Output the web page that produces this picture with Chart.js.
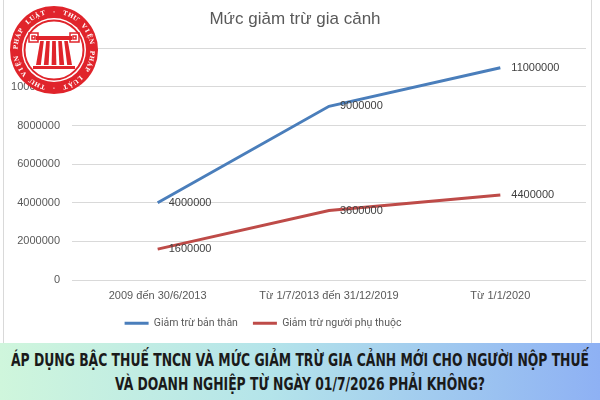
<!DOCTYPE html>
<html>
<head>
<meta charset="utf-8">
<script src="https://cdn.jsdelivr.net/npm/chart.js@4"></script>
<style>
  body { margin: 0; width: 600px; height: 400px; overflow: hidden; background: #fff; }
  #wrap { position: absolute; left: 3px; top: 0; width: 587px; height: 343px; border-left: 1px solid #d9d9d9; border-right: 1px solid #d9d9d9; }
  #banner { position: absolute; left: 0; top: 343px; width: 600px; height: 57px;
    background: linear-gradient(90deg, #cff6dc 0%, #b4e4ea 45%, #8eb1f4 100%); }
  .line { position: absolute; left: 50%; white-space: nowrap;
    font-family: "DejaVu Sans Condensed", "DejaVu Sans", sans-serif; font-weight: bold; font-size: 17px; color: #1a1a1a; }
</style>
</head>
<body>
<div id="wrap"><canvas id="chart"></canvas></div>
<div id="banner">
  <div class="line" id="l1" style="top:7px">ÁP DỤNG BẬC THUẾ TNCN VÀ MỨC GIẢM TRỪ GIA CẢNH MỚI CHO NGƯỜI NỘP THUẾ</div>
  <div class="line" id="l2" style="top:31px">VÀ DOANH NGHIỆP TỪ NGÀY 01/7/2026 PHẢI KHÔNG?</div>
</div>
<script>
const labels = ['2009 đến 30/6/2013', 'Từ 1/7/2013 đến 31/12/2019', 'Từ 1/1/2020']
const banThan = [4000000, 9000000, 11000000]
const phuThuoc = [1600000, 3600000, 4400000]
const seriesNames = ['Giảm trừ bản thân', 'Giảm trừ người phụ thuộc']

// squeeze banner text into the width it has in the picture
const l1 = document.getElementById('l1')
const k = 578 / l1.getBoundingClientRect().width
l1.style.transform = 'translateX(-50%) scaleX(' + k + ')'
document.getElementById('l2').style.transform = 'translateX(-50%) scaleX(' + k + ')'

const valueLabels = {
    id: 'valueLabels',
    afterDatasetsDraw(chart) {
        const ctx = chart.ctx
        ctx.save()
        ctx.font = '11px "Liberation Sans", Arial, sans-serif'
        ctx.fillStyle = '#404040'
        ctx.textBaseline = 'middle'
        chart.data.datasets.forEach((ds, i) => {
            chart.getDatasetMeta(i).data.forEach((pt, j) => {
                ctx.fillText(ds.data[j], pt.x + 11, pt.y)
            })
        })
        ctx.restore()
    }
}

// legend in the picture sits a bit left of centre
const legendShift = {
    id: 'legendShift',
    afterLayout(chart) {
        chart.legend.right = 518
        chart.legend.width = 518 - chart.legend.left
    }
}

const logo = {
    id: 'logo',
    afterDraw(chart) {
        const ctx = chart.ctx
        const cx = 50, cy = 50, r = 44
        ctx.save()
        ctx.fillStyle = '#e0242b'
        ctx.beginPath(); ctx.arc(cx, cy, r, 0, Math.PI * 2); ctx.fill()
        ctx.fillStyle = '#fff'
        ctx.beginPath(); ctx.arc(cx, cy, 32, 0, Math.PI * 2); ctx.fill()
        ctx.strokeStyle = '#e0242b'; ctx.lineWidth = 2
        ctx.beginPath(); ctx.arc(cx, cy, 29.5, 0, Math.PI * 2); ctx.stroke()
        // ring text
        const txt = '· THƯ VIỆN PHÁP LUẬT · THƯ VIỆN PHÁP LUẬT '
        ctx.fillStyle = '#fff'
        ctx.font = 'bold 6px "DejaVu Serif", serif'
        ctx.textAlign = 'center'; ctx.textBaseline = 'middle'
        for (let i = 0; i < txt.length; i++) {
            const a = -Math.PI / 2 + (i / txt.length) * Math.PI * 2
            ctx.save()
            ctx.translate(cx + Math.cos(a) * 38, cy + Math.sin(a) * 38)
            ctx.rotate(a + Math.PI / 2)
            ctx.fillText(txt[i], 0, 0)
            ctx.restore()
        }
        // column emblem
        ctx.fillStyle = '#e0242b'
        ctx.fillRect(cx - 18, cy - 14, 36, 4)
        ctx.strokeStyle = '#e0242b'; ctx.lineWidth = 1.5
        ctx.strokeRect(cx - 25, cy - 17, 9, 9)
        ctx.strokeRect(cx + 16, cy - 17, 9, 9)
        ctx.strokeRect(cx - 22, cy - 14, 3, 3)
        ctx.strokeRect(cx + 19, cy - 14, 3, 3)
        const cols = [-12, -6, 0, 6, 12]
        cols.forEach(dx => {
            ctx.beginPath()
            ctx.moveTo(cx + dx - 1.8, cy - 9)
            ctx.lineTo(cx + dx + 1.8, cy - 9)
            ctx.lineTo(cx + dx * 1.3 + 2.4, cy + 15)
            ctx.lineTo(cx + dx * 1.3 - 2.4, cy + 15)
            ctx.closePath(); ctx.fill()
        })
        ctx.fillRect(cx - 21, cy + 16, 42, 3)
        ctx.restore()
    }
}

const canvas = document.getElementById('chart')
canvas.width = 587
canvas.height = 343

new Chart(canvas.getContext('2d'), {
    type: 'line',
    data: {
        labels: labels,
        datasets: [{
            label: seriesNames[0],
            data: banThan,
            borderColor: '#4a7ebb',
            backgroundColor: '#4a7ebb',
            borderWidth: 3,
            pointRadius: 0,
            tension: 0
        }, {
            label: seriesNames[1],
            data: phuThuoc,
            borderColor: '#be4b48',
            backgroundColor: '#be4b48',
            borderWidth: 3,
            pointRadius: 0,
            tension: 0
        }]
    },
    options: {
        responsive: false,
        animation: false,
        layout: { padding: { left: 0, right: 5, top: 0, bottom: 4.5 } },
        plugins: {
            title: {
                display: true,
                text: 'Mức giảm trừ gia cảnh',
                color: '#595959',
                font: { family: '"Liberation Sans", Arial, sans-serif', size: 17, weight: 'normal' },
                padding: { top: 9, bottom: 19 }
            },
            legend: {
                position: 'bottom',
                labels: {
                    usePointStyle: true,
                    pointStyle: 'line',
                    pointStyleWidth: 24,
                    color: '#595959',
                    font: { family: 'Roboto, sans-serif', size: 10.5 },
                    padding: 15
                }
            },
            tooltip: { enabled: false }
        },
        scales: {
            x: {
                offset: true,
                afterFit(scale) { scale.height = 23 },
                grid: { display: false, drawTicks: false },
                border: { display: false },
                ticks: {
                    color: '#595959',
                    font: { family: '"Liberation Sans", Arial, sans-serif', size: 11 },
                    maxRotation: 0,
                    padding: 9
                }
            },
            y: {
                min: 0,
                max: 12000000,
                afterFit(scale) { scale.width = 68 },
                grid: { color: '#d9d9d9', drawTicks: false },
                border: { display: false },
                ticks: {
                    stepSize: 2000000,
                    color: '#595959',
                    font: { family: '"Liberation Sans", Arial, sans-serif', size: 11 },
                    padding: 12,
                    callback: (v) => String(v)
                }
            }
        }
    },
    plugins: [valueLabels, legendShift, logo]
})
</script>
</body>
</html>
